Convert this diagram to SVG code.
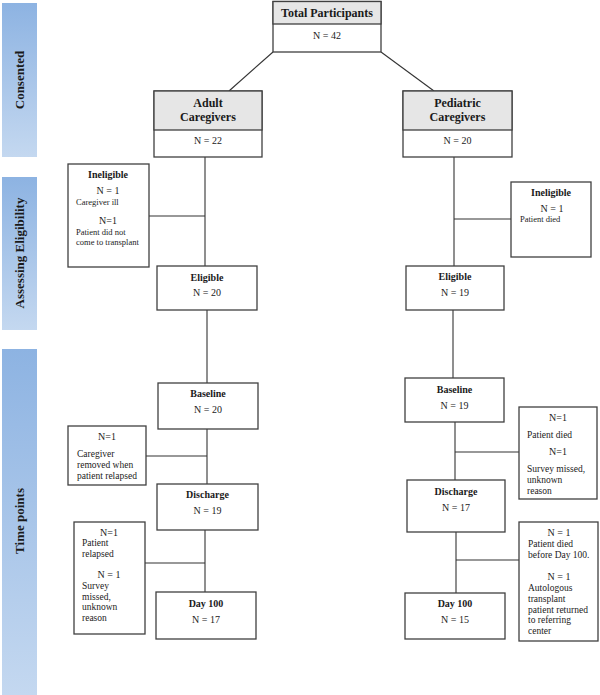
<svg xmlns="http://www.w3.org/2000/svg" width="600" height="695" viewBox="0 0 600 695">
<defs>
<linearGradient id="bar" x1="0" y1="0" x2="0" y2="1">
<stop offset="0" stop-color="#8db3e2"/>
<stop offset="1" stop-color="#c4d8f0"/>
</linearGradient>
<style>
.bar{fill:url(#bar);}
.side{font-family:"Liberation Serif",serif;font-weight:bold;font-size:13px;fill:#1a1a1a;text-anchor:middle;}
.box{fill:#fff;stroke:#404040;stroke-width:1.3;}
.hdr{fill:#e6e6e6;stroke:#404040;stroke-width:1.3;}
.ln{stroke:#333;stroke-width:1.1;fill:none;}
.t{font-family:"Liberation Serif",serif;font-weight:bold;font-size:12px;fill:#1a1a1a;text-anchor:middle;}
.st{font-family:"Liberation Serif",serif;font-weight:bold;font-size:10px;fill:#1a1a1a;text-anchor:middle;}
.n{font-family:"Liberation Serif",serif;font-size:10px;fill:#222;text-anchor:middle;}
.d{font-family:"Liberation Serif",serif;font-size:8.5px;fill:#222;}
.d2{font-family:"Liberation Serif",serif;font-size:9.5px;fill:#222;}
</style>
</defs>
<rect width="600" height="695" fill="#fff"/>

<g id="stage-consented">
<rect class="bar" x="2" y="3" width="35" height="154"/>
<text class="side" transform="translate(24,80) rotate(-90)">Consented</text>
</g>
<g id="stage-eligibility">
<rect class="bar" x="2" y="177" width="35" height="153"/>
<text class="side" transform="translate(24,253) rotate(-90)">Assessing Eligibility</text>
</g>
<g id="stage-timepoints">
<rect class="bar" x="2" y="349" width="35" height="346"/>
<text class="side" transform="translate(24,521) rotate(-90)">Time points</text>
</g>

<g id="connectors">
<path class="ln" d="M273,52 L229,91"/>
<path class="ln" d="M381,52 L434,91"/>
<path class="ln" d="M205,157 V266"/>
<path class="ln" d="M149,216 H205"/>
<path class="ln" d="M207,310 V383"/>
<path class="ln" d="M207,429 V484"/>
<path class="ln" d="M146,456 H207"/>
<path class="ln" d="M205,530 V592"/>
<path class="ln" d="M145,563 H205"/>
<path class="ln" d="M454,157 V266"/>
<path class="ln" d="M454,219 H511"/>
<path class="ln" d="M453,310 V378"/>
<path class="ln" d="M455,422 V480"/>
<path class="ln" d="M455,452 H519"/>
<path class="ln" d="M456,532 V593"/>
<path class="ln" d="M456,560 H519"/>
</g>

<g id="total">
<rect class="box" x="273" y="1.5" width="108" height="50.5"/>
<rect class="hdr" x="273" y="1.5" width="108" height="22.5"/>
<text class="t" x="327" y="17">Total Participants</text>
<text class="n" x="327" y="39">N = 42</text>
</g>

<g id="adult">
<rect class="box" x="154" y="91" width="108" height="66"/>
<rect class="hdr" x="154" y="91" width="108" height="39"/>
<text class="t" x="208" y="107">Adult</text>
<text class="t" x="208" y="121">Caregivers</text>
<text class="n" x="208" y="144">N = 22</text>
</g>

<g id="pediatric">
<rect class="box" x="403" y="91" width="109" height="66"/>
<rect class="hdr" x="403" y="91" width="109" height="39"/>
<text class="t" x="457.5" y="107">Pediatric</text>
<text class="t" x="457.5" y="121">Caregivers</text>
<text class="n" x="457.5" y="144">N = 20</text>
</g>

<g id="adult-ineligible">
<rect class="box" x="68" y="164" width="81" height="103"/>
<text class="st" x="108" y="178">Ineligible</text>
<text class="n" x="108" y="194">N = 1</text>
<text class="d" x="76" y="205">Caregiver ill</text>
<text class="n" x="108" y="224">N=1</text>
<text class="d" x="76" y="235">Patient did not</text>
<text class="d" x="76" y="245">come to transplant</text>
</g>

<g id="ped-ineligible">
<rect class="box" x="511" y="182" width="80" height="75"/>
<text class="st" x="551" y="196">Ineligible</text>
<text class="n" x="552" y="212">N = 1</text>
<text class="d" x="520" y="222">Patient died</text>
</g>

<g id="adult-eligible">
<rect class="box" x="157" y="266" width="100" height="44"/>
<text class="st" x="207" y="281">Eligible</text>
<text class="n" x="207" y="296">N = 20</text>
</g>

<g id="ped-eligible">
<rect class="box" x="406" y="266" width="98" height="44"/>
<text class="st" x="455" y="280">Eligible</text>
<text class="n" x="455" y="296">N = 19</text>
</g>

<g id="adult-baseline">
<rect class="box" x="158" y="383" width="100" height="46"/>
<text class="st" x="208" y="397">Baseline</text>
<text class="n" x="208" y="413">N = 20</text>
</g>

<g id="ped-baseline">
<rect class="box" x="405" y="378" width="99" height="44"/>
<text class="st" x="454.5" y="393">Baseline</text>
<text class="n" x="454.5" y="409">N = 19</text>
</g>

<g id="adult-loss1">
<rect class="box" x="68" y="426" width="78" height="59"/>
<text class="n" x="107" y="440">N=1</text>
<text class="d2" x="77" y="457">Caregiver</text>
<text class="d2" x="77" y="468">removed when</text>
<text class="d2" x="77" y="479">patient relapsed</text>
</g>

<g id="ped-loss1">
<rect class="box" x="519" y="407" width="78" height="92"/>
<text class="n" x="558" y="421">N=1</text>
<text class="d2" x="527" y="438">Patient died</text>
<text class="n" x="558" y="455">N=1</text>
<text class="d2" x="527" y="472">Survey missed,</text>
<text class="d2" x="527" y="483">unknown</text>
<text class="d2" x="527" y="494">reason</text>
</g>

<g id="adult-discharge">
<rect class="box" x="157" y="484" width="101" height="46"/>
<text class="st" x="207.5" y="498">Discharge</text>
<text class="n" x="207.5" y="514">N = 19</text>
</g>

<g id="ped-discharge">
<rect class="box" x="407" y="480" width="98" height="52"/>
<text class="st" x="456" y="495">Discharge</text>
<text class="n" x="456" y="511">N = 17</text>
</g>

<g id="adult-loss2">
<rect class="box" x="74" y="522" width="71" height="112"/>
<text class="n" x="109" y="536">N=1</text>
<text class="d2" x="82" y="546">Patient</text>
<text class="d2" x="82" y="557">relapsed</text>
<text class="n" x="109" y="578">N = 1</text>
<text class="d2" x="82" y="589">Survey</text>
<text class="d2" x="82" y="600">missed,</text>
<text class="d2" x="82" y="610">unknown</text>
<text class="d2" x="82" y="621">reason</text>
</g>

<g id="ped-loss2">
<rect class="box" x="519" y="522" width="79" height="119"/>
<text class="n" x="559" y="536">N = 1</text>
<text class="d2" x="528" y="547">Patient died</text>
<text class="d2" x="528" y="558">before Day 100.</text>
<text class="n" x="559" y="580">N = 1</text>
<text class="d2" x="528" y="591">Autologous</text>
<text class="d2" x="528" y="602">transplant</text>
<text class="d2" x="528" y="613">patient returned</text>
<text class="d2" x="528" y="623">to referring</text>
<text class="d2" x="528" y="634">center</text>
</g>

<g id="adult-day100">
<rect class="box" x="156" y="592" width="100" height="47"/>
<text class="st" x="206" y="607">Day 100</text>
<text class="n" x="206" y="623">N = 17</text>
</g>

<g id="ped-day100">
<rect class="box" x="405" y="593" width="100" height="46"/>
<text class="st" x="455" y="607">Day 100</text>
<text class="n" x="455" y="623">N = 15</text>
</g>
</svg>
